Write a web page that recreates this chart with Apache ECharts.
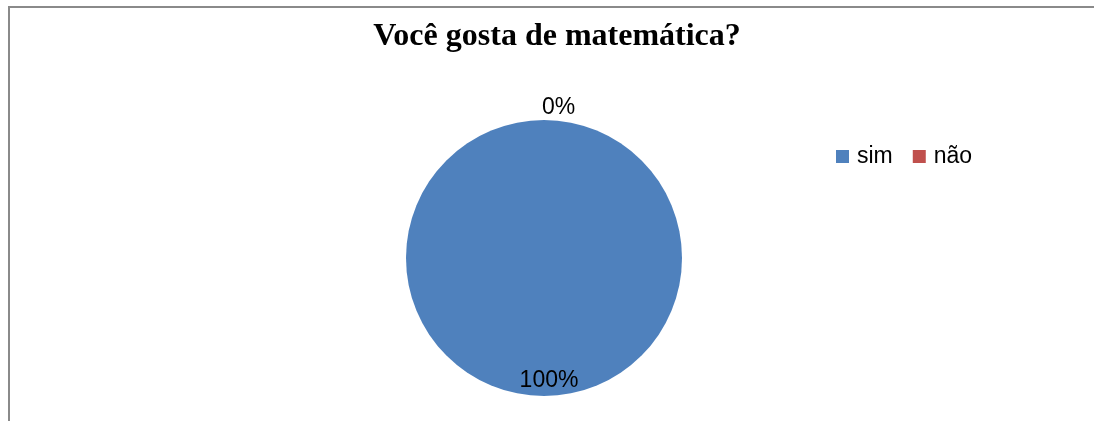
<!DOCTYPE html>
<html>
<head>
<meta charset="utf-8">
<script src="https://cdn.jsdelivr.net/npm/echarts@6/dist/echarts.min.js"></script>
<style>
  html, body { margin: 0; padding: 0; background: #fff; }
  #chart { width: 1094px; height: 421px; }
</style>
</head>
<body>
<div id="chart"></div>
<script>
// dados do gráfico
const categorias = ['sim', 'não'];
const valores = [100, 0];
const cores = ['#4F81BD', '#C0504D'];

const chart = echarts.init(document.getElementById('chart'));

const dados = categorias.map((nome, i) => {
  const item = { name: nome, value: valores[i], itemStyle: { color: cores[i] } };
  if (i === 0) {
    // rótulo de 100% fica dentro da fatia, perto da borda de baixo
    item.label = { position: 'inside', offset: [5, 51] };
  } else {
    item.label = { offset: [-7, -12] };
  }
  return item;
});

chart.setOption({
  animation: false,
  title: {
    text: 'Você gosta de matemática?',
    left: 552,
    textAlign: 'center',
    top: 16,
    textStyle: {
      fontFamily: 'Liberation Serif',
      fontWeight: 'bold',
      fontSize: 32,
      color: '#000'
    }
  },
  legend: {
    data: categorias,
    orient: 'horizontal',
    left: 831,
    top: 140,
    itemWidth: 13,
    itemHeight: 13,
    itemGap: 20,
    icon: 'rect',
    textStyle: {
      fontFamily: 'Liberation Sans',
      fontSize: 23,
      color: '#000',
      padding: [0, 0, 0, 3]
    }
  },
  graphic: [
    { // moldura
      type: 'rect',
      shape: { x: 9, y: 7, width: 1200, height: 600 },
      style: { fill: 'none', stroke: '#8a8a8a', lineWidth: 2 },
      silent: true
    }
  ],
  series: [
    {
      type: 'pie',
      center: [544, 258],
      radius: [0, 138],
      startAngle: 90,
      clockwise: true,
      stillShowZeroSum: true,
      data: dados,
      label: {
        show: true,
        position: 'outside',
        formatter: p => p.value + '%',
        fontFamily: 'Liberation Sans',
        fontSize: 23,
        color: '#000'
      },
      labelLine: { show: false, length: 0, length2: 0 },
      emphasis: { disabled: true }
    }
  ]
});
</script>
</body>
</html>
